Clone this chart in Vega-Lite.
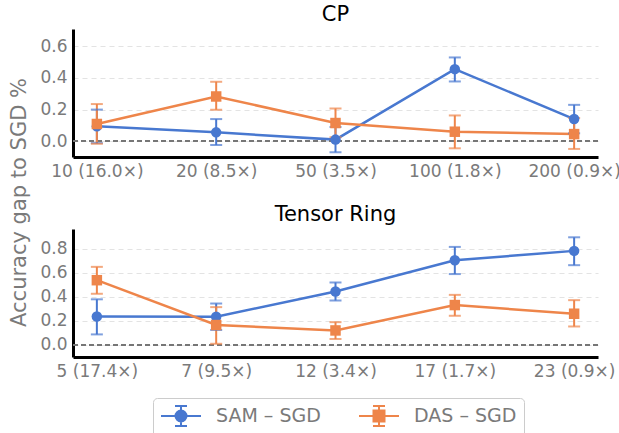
{
  "$schema": "https://vega.github.io/schema/vega-lite/v6.json",
  "background": "white",
  "padding": {"left": 8, "top": 4, "right": 5, "bottom": 0},
  "config": {
    "font": "DejaVu Sans",
    "view": {"stroke": null},
    "concat": {"spacing": 72},
    "title": {"fontSize": 21, "fontWeight": "normal", "color": "black", "baseline": "alphabetic", "offset": 4},
    "axis": {"labelFont": "DejaVu Sans", "labelFontSize": 17, "labelColor": "#7a7a7a", "domainColor": "black", "domainWidth": 3, "ticks": false, "titleFont": "DejaVu Sans", "labelOverlap": false}
  },
  "bounds": "flush",
  "data": {"values": [
    {"panel": "CP", "label": "10 (16.0×)", "series": "SAM – SGD", "y": 0.094, "lo": -0.012, "hi": 0.2},
    {"panel": "CP", "label": "20 (8.5×)", "series": "SAM – SGD", "y": 0.056, "lo": -0.024, "hi": 0.14},
    {"panel": "CP", "label": "50 (3.5×)", "series": "SAM – SGD", "y": 0.01, "lo": -0.07, "hi": 0.09},
    {"panel": "CP", "label": "100 (1.8×)", "series": "SAM – SGD", "y": 0.456, "lo": 0.378, "hi": 0.53},
    {"panel": "CP", "label": "200 (0.9×)", "series": "SAM – SGD", "y": 0.14, "lo": 0.05, "hi": 0.23},
    {"panel": "CP", "label": "10 (16.0×)", "series": "DAS – SGD", "y": 0.109, "lo": -0.016, "hi": 0.235},
    {"panel": "CP", "label": "20 (8.5×)", "series": "DAS – SGD", "y": 0.283, "lo": 0.199, "hi": 0.376},
    {"panel": "CP", "label": "50 (3.5×)", "series": "DAS – SGD", "y": 0.115, "lo": 0.025, "hi": 0.207},
    {"panel": "CP", "label": "100 (1.8×)", "series": "DAS – SGD", "y": 0.06, "lo": -0.045, "hi": 0.163},
    {"panel": "CP", "label": "200 (0.9×)", "series": "DAS – SGD", "y": 0.045, "lo": -0.049, "hi": 0.147},
    {"panel": "TR", "label": "5 (17.4×)", "series": "SAM – SGD", "y": 0.237, "lo": 0.088, "hi": 0.38},
    {"panel": "TR", "label": "7 (9.5×)", "series": "SAM – SGD", "y": 0.235, "lo": 0.125, "hi": 0.345},
    {"panel": "TR", "label": "12 (3.4×)", "series": "SAM – SGD", "y": 0.445, "lo": 0.37, "hi": 0.52},
    {"panel": "TR", "label": "17 (1.7×)", "series": "SAM – SGD", "y": 0.705, "lo": 0.59, "hi": 0.816},
    {"panel": "TR", "label": "23 (0.9×)", "series": "SAM – SGD", "y": 0.783, "lo": 0.664, "hi": 0.896},
    {"panel": "TR", "label": "5 (17.4×)", "series": "DAS – SGD", "y": 0.539, "lo": 0.426, "hi": 0.65},
    {"panel": "TR", "label": "7 (9.5×)", "series": "DAS – SGD", "y": 0.166, "lo": 0.01, "hi": 0.315},
    {"panel": "TR", "label": "12 (3.4×)", "series": "DAS – SGD", "y": 0.121, "lo": 0.05, "hi": 0.19},
    {"panel": "TR", "label": "17 (1.7×)", "series": "DAS – SGD", "y": 0.332, "lo": 0.243, "hi": 0.417},
    {"panel": "TR", "label": "23 (0.9×)", "series": "DAS – SGD", "y": 0.26, "lo": 0.154, "hi": 0.373}
  ]},
  "resolve": {"scale": {"color": "shared"}, "legend": {"color": "shared"}},
  "vconcat": [
    {
      "title": "CP",
      "width": 525,
      "height": 128,
      "transform": [{"filter": "datum.panel === 'CP'"}],
      "encoding": {
        "x": {"field": "label", "type": "ordinal", "sort": null, "scale": {"type": "point", "padding": 0.2},
              "axis": {"title": null, "labelAngle": 0, "labelPadding": 6, "grid": false}},
        "color": {"field": "series", "type": "nominal", "sort": ["SAM – SGD", "DAS – SGD"],
                  "scale": {"domain": ["SAM – SGD", "DAS – SGD"], "range": ["#4878d0", "#ee854a"]},
                  "legend": {"title": null, "orient": "none", "legendX": 80, "legendY": 369, "direction": "horizontal", "columns": 2,
                             "strokeColor": "#cccccc", "cornerRadius": 4, "padding": 7, "symbolSize": 400, "symbolStrokeWidth": 2,
                             "labelFontSize": 19, "labelColor": "#7a7a7a", "labelOffset": 34, "columnPadding": 34,
                             "encode": {"symbols": {"update": {
                               "shape": {"signal": "datum.value === 'SAM – SGD' ? 'M-1,0H3M1,-1V1M0.4,-1H1.6M0.4,1H1.6M1.55,0A0.55,0.55 0 1,1 0.45,0A0.55,0.55 0 1,1 1.55,0Z' : 'M-1,0H3M1,-1V1M0.4,-1H1.6M0.4,1H1.6M0.45,-0.55H1.55V0.55H0.45Z'"},
                               "fill": {"scale": "color", "field": "value"},
                               "stroke": {"scale": "color", "field": "value"},
                               "strokeWidth": {"value": 2},
                               "fillOpacity": {"value": 1},
                               "opacity": {"value": 1}
                             }}}}}
      },
      "layer": [
        {"mark": {"type": "line", "strokeWidth": 2.5},
         "encoding": {"y": {"field": "y", "type": "quantitative",
                           "scale": {"domain": [-0.1, 0.71], "nice": false, "zero": false},
                           "axis": {"title": "Accuracy gap to SGD %", "titleFontSize": 21, "titleFontWeight": "normal", "titleColor": "#7a7a7a",
                                    "titleX": -54, "titleY": 173, "titleAngle": -90, "titleAlign": "center", "titleBaseline": "middle",
                                    "values": [0, 0.2, 0.4, 0.6], "format": ".1f", "labelPadding": 6, "labelOverlap": false,
                                    "grid": true, "gridColor": "#e3e3e3", "gridDash": [5, 4], "gridWidth": 1}}}},
        {"mark": {"type": "rule", "color": "#777777", "strokeWidth": 1.5, "strokeDash": [5, 3]},
         "encoding": {"y": {"datum": 0, "type": "quantitative", "axis": {"values": [0, 0.2, 0.4, 0.6], "format": ".1f", "labelOverlap": false}}, "x": null, "color": null}},
        {"mark": {"type": "rule", "strokeWidth": 2},
         "encoding": {"y": {"field": "lo", "type": "quantitative", "axis": {"values": [0, 0.2, 0.4, 0.6], "format": ".1f", "labelOverlap": false}}, "y2": {"field": "hi"}}},
        {"mark": {"type": "tick", "orient": "horizontal", "size": 12, "thickness": 2},
         "encoding": {"y": {"field": "lo", "type": "quantitative", "axis": {"values": [0, 0.2, 0.4, 0.6], "format": ".1f", "labelOverlap": false}}}},
        {"mark": {"type": "tick", "orient": "horizontal", "size": 12, "thickness": 2},
         "encoding": {"y": {"field": "hi", "type": "quantitative", "axis": {"values": [0, 0.2, 0.4, 0.6], "format": ".1f", "labelOverlap": false}}}},
        {"transform": [{"filter": "datum.series === 'SAM – SGD'"}],
         "mark": {"type": "point", "filled": true, "opacity": 1, "shape": "circle", "size": 110},
         "encoding": {"y": {"field": "y", "type": "quantitative", "axis": {"values": [0, 0.2, 0.4, 0.6], "format": ".1f", "labelOverlap": false}}}},
        {"transform": [{"filter": "datum.series === 'DAS – SGD'"}],
         "mark": {"type": "point", "filled": true, "opacity": 1, "shape": "square", "size": 110},
         "encoding": {"y": {"field": "y", "type": "quantitative", "axis": {"values": [0, 0.2, 0.4, 0.6], "format": ".1f", "labelOverlap": false}}}}
      ]
    },
    {
      "title": "Tensor Ring",
      "width": 525,
      "height": 128,
      "transform": [{"filter": "datum.panel === 'TR'"}],
      "encoding": {
        "x": {"field": "label", "type": "ordinal", "sort": null, "scale": {"type": "point", "padding": 0.2},
              "axis": {"title": null, "labelAngle": 0, "labelPadding": 6, "grid": false}},
        "color": {"field": "series", "type": "nominal", "sort": ["SAM – SGD", "DAS – SGD"],
                  "scale": {"domain": ["SAM – SGD", "DAS – SGD"], "range": ["#4878d0", "#ee854a"]}}
      },
      "layer": [
        {"mark": {"type": "line", "strokeWidth": 2.5},
         "encoding": {"y": {"field": "y", "type": "quantitative",
                           "scale": {"domain": [-0.1, 0.965], "nice": false, "zero": false},
                           "axis": {"title": null,
                                    "values": [0, 0.2, 0.4, 0.6, 0.8], "format": ".1f", "labelPadding": 6, "labelOverlap": false,
                                    "grid": true, "gridColor": "#e3e3e3", "gridDash": [5, 4], "gridWidth": 1}}}},
        {"mark": {"type": "rule", "color": "#777777", "strokeWidth": 1.5, "strokeDash": [5, 3]},
         "encoding": {"y": {"datum": 0, "type": "quantitative", "axis": {"title": null, "values": [0, 0.2, 0.4, 0.6, 0.8], "format": ".1f", "labelOverlap": false}}, "x": null, "color": null}},
        {"mark": {"type": "rule", "strokeWidth": 2},
         "encoding": {"y": {"field": "lo", "type": "quantitative", "axis": {"title": null, "values": [0, 0.2, 0.4, 0.6, 0.8], "format": ".1f", "labelOverlap": false}}, "y2": {"field": "hi"}}},
        {"mark": {"type": "tick", "orient": "horizontal", "size": 12, "thickness": 2},
         "encoding": {"y": {"field": "lo", "type": "quantitative", "axis": {"title": null, "values": [0, 0.2, 0.4, 0.6, 0.8], "format": ".1f", "labelOverlap": false}}}},
        {"mark": {"type": "tick", "orient": "horizontal", "size": 12, "thickness": 2},
         "encoding": {"y": {"field": "hi", "type": "quantitative", "axis": {"title": null, "values": [0, 0.2, 0.4, 0.6, 0.8], "format": ".1f", "labelOverlap": false}}}},
        {"transform": [{"filter": "datum.series === 'SAM – SGD'"}],
         "mark": {"type": "point", "filled": true, "opacity": 1, "shape": "circle", "size": 110},
         "encoding": {"y": {"field": "y", "type": "quantitative", "axis": {"title": null, "values": [0, 0.2, 0.4, 0.6, 0.8], "format": ".1f", "labelOverlap": false}}}},
        {"transform": [{"filter": "datum.series === 'DAS – SGD'"}],
         "mark": {"type": "point", "filled": true, "opacity": 1, "shape": "square", "size": 110},
         "encoding": {"y": {"field": "y", "type": "quantitative", "axis": {"title": null, "values": [0, 0.2, 0.4, 0.6, 0.8], "format": ".1f", "labelOverlap": false}}}}
      ]
    }
  ]
}
